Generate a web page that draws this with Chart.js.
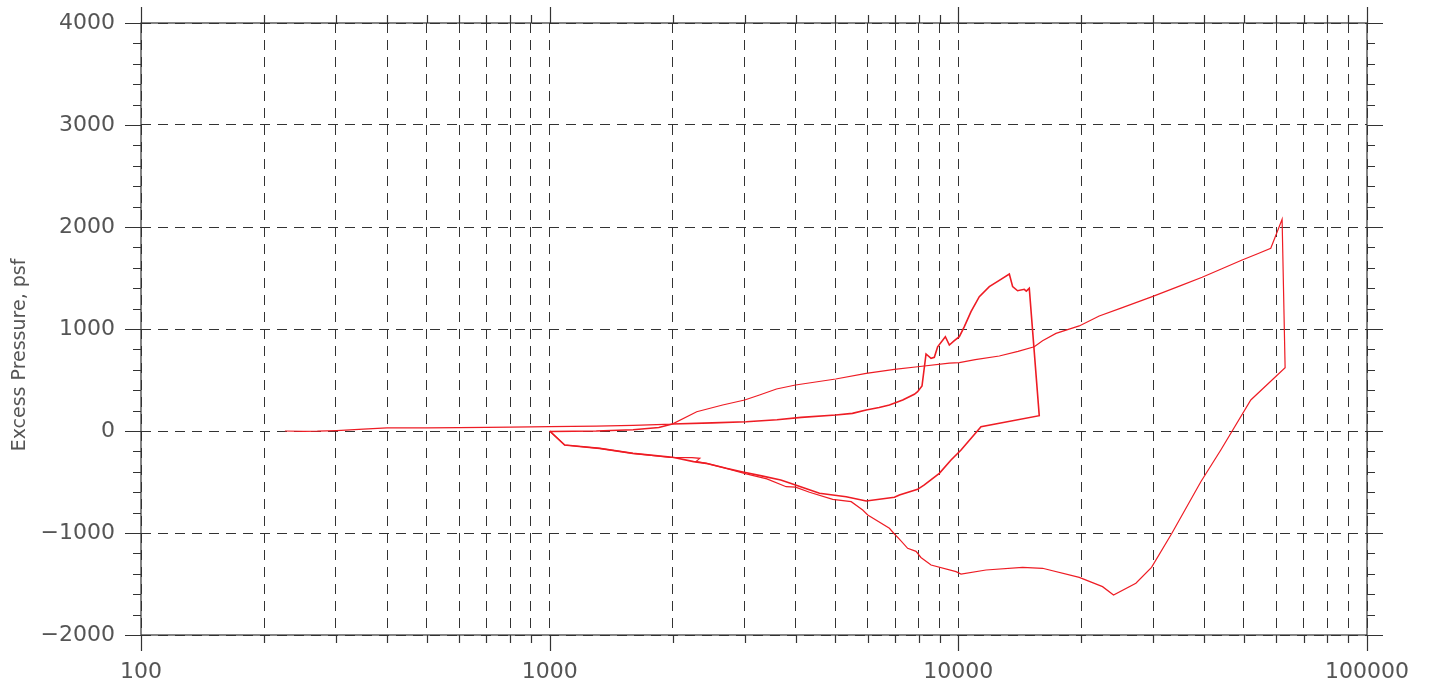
<!DOCTYPE html>
<html>
<head>
<meta charset="utf-8">
<script src="https://cdn.jsdelivr.net/npm/chart.js@4.4.0/dist/chart.umd.min.js"></script>
<style>
  html, body { margin: 0; padding: 0; background: #fff; }
  #wrap { width: 1429px; height: 689px; }
</style>
</head>
<body>
<div id="wrap"><canvas id="chart"></canvas></div>
<script>
// tick positions
var xGrid = [100, 200, 300, 400, 500, 600, 700, 800, 900,
             1000, 2000, 3000, 4000, 5000, 6000, 7000, 8000, 9000,
             10000, 20000, 30000, 40000, 50000, 60000, 70000, 80000, 90000, 100000];
var xLabels = [100, 1000, 10000, 100000];
var yMin = -2000, yMax = 4000, yStep = 1000, yMinorStep = 200;

// outer loop (long branch out to ~63000)
var outerX = [225, 250, 270, 301, 350, 400, 500, 600, 700, 800, 900, 1000, 1300, 1600, 1995,
              2290, 2650, 3000, 3262, 3589, 3996, 5012, 5950, 6976, 7950, 9506, 10056, 11000, 12596,
              14000, 15339, 16073, 17336, 19763, 22120, 25000, 29820, 35000, 39500, 44000, 49480,
              54000, 58150, 61980, 63040,
              51960, 43880, 39210, 33310, 29700, 27194, 23976, 22537, 19763, 16073, 14362, 11687,
              10153, 9871, 8575, 8100, 7880, 7516, 7174, 6976, 6782, 6003, 5834, 5468, 4928, 4323,
              3996, 3791, 3400, 3027, 2704, 2416, 2280, 2330, 2230, 1966, 1598, 1325, 1088, 1000];
var outerY = [0, -3, -2, 4, 18, 30, 31, 33, 36, 38, 40, 42, 48, 56, 68,
              189, 255, 304, 353, 412, 451, 510, 565, 605, 630, 665, 670, 700, 735,
              780, 826, 885, 957, 1030, 1127, 1205, 1317, 1425, 1507, 1588, 1676,
              1738, 1791, 2075, 620,
              304, -186, -497, -1003, -1337, -1493, -1608, -1526, -1435, -1346, -1337, -1363,
              -1402, -1379, -1314, -1240, -1180, -1150, -1060, -1010, -954, -824, -775, -693, -670, -601,
              -550, -546, -470, -420, -366, -317, -300, -268, -262, -258, -219, -170, -137, 0];

// inner loop (returns near 16000)
var innerX = [1000, 1300, 1600, 1850, 1995, 2500, 3027, 3600, 4125, 5012, 5506, 5950, 6400, 6782,
              7309, 7804, 7950, 8149, 8336, 8575, 8735, 8899, 9294, 9506, 9777, 10056, 10344, 10740,
              11254, 11907, 12596, 13328, 13580, 13964, 14500, 14665, 14914, 15776,
              11363, 10153, 9597, 8985, 8257, 7950, 7174, 6976, 5950, 5315, 4573, 3996, 3677,
              3300, 2950, 2704, 2416, 2250, 2000, 1598, 1325, 1088, 1000];
var innerY = [-5, 0, 12, 35, 68, 80, 91, 110, 134, 157, 173, 206, 230, 255,
              304, 360, 385, 441, 755, 712, 722, 826, 925, 843, 885, 925, 1023, 1170,
              1317, 1415, 1477, 1539, 1415, 1375, 1389, 1372, 1399, 150,
              42, -186, -284, -415, -529, -572, -627, -650, -686, -644, -611, -529, -480,
              -440, -400, -366, -317, -300, -258, -219, -170, -137, 0];

function pts(xs, ys) {
    return xs.map(function (x, i) { return { x: x, y: ys[i] }; });
}

var lineColor = 'rgb(238, 28, 36)';
var axisColor = '#333';
var textColor = '#555';
var fontFamily = '"DejaVu Sans", sans-serif';

// frame, minor/major tick marks and y title
var framePlugin = {
    id: 'frame',
    afterDraw: function (chart) {
        var ctx = chart.ctx, a = chart.chartArea;
        var xs = chart.scales.x, ys = chart.scales.y;
        ctx.save();
        ctx.strokeStyle = axisColor;
        ctx.lineWidth = 1.2;
        ctx.setLineDash([]);
        ctx.strokeRect(a.left, a.top, a.right - a.left, a.bottom - a.top);
        ctx.beginPath();
        for (var v = yMin; v <= yMax; v += yMinorStep) {
            var py = Math.round(ys.getPixelForValue(v)) + 0.5;
            var len = (v % yStep === 0) ? 16 : 8;
            ctx.moveTo(a.left - len, py); ctx.lineTo(a.left, py);
            ctx.moveTo(a.right, py); ctx.lineTo(a.right + len, py);
        }
        xGrid.forEach(function (x) {
            var px = Math.round(xs.getPixelForValue(x)) + 0.5;
            var len = xLabels.indexOf(x) >= 0 ? 16 : 8;
            ctx.moveTo(px, a.bottom); ctx.lineTo(px, a.bottom + len);
            ctx.moveTo(px, a.top); ctx.lineTo(px, a.top - len);
        });
        ctx.stroke();

        ctx.translate(20, 355);
        ctx.rotate(-Math.PI / 2);
        ctx.fillStyle = textColor;
        ctx.font = '19px ' + fontFamily;
        ctx.textAlign = 'center';
        ctx.textBaseline = 'middle';
        ctx.fillText('Excess Pressure, psf', 0, 0);
        ctx.restore();
    }
};

var ctx = document.getElementById('chart').getContext('2d');

var pressureChart = new Chart(ctx, {
    type: 'scatter',
    data: {
        datasets: [
            {
                label: 'outer',
                data: pts(outerX, outerY),
                showLine: true,
                borderColor: lineColor,
                borderWidth: 1.2,
                pointRadius: 0,
                tension: 0
            },
            {
                label: 'inner',
                data: pts(innerX, innerY),
                showLine: true,
                borderColor: lineColor,
                borderWidth: 1.6,
                pointRadius: 0,
                tension: 0
            }
        ]
    },
    options: {
        responsive: true,
        maintainAspectRatio: false,
        animation: false,
        devicePixelRatio: 1,
        layout: { padding: { top: 23, right: 62, left: 0, bottom: 0 } },
        plugins: {
            legend: { display: false },
            tooltip: { enabled: false }
        },
        scales: {
            x: {
                type: 'logarithmic',
                position: 'bottom',
                min: 100,
                max: 100000,
                afterBuildTicks: function (scale) {
                    scale.ticks = xGrid.map(function (v) { return { value: v }; });
                },
                afterFit: function (scale) {
                    scale.height = 54;
                    scale.paddingLeft = 0;
                    scale.paddingRight = 0;
                },
                ticks: {
                    autoSkip: false,
                    maxRotation: 0,
                    padding: 24,
                    color: textColor,
                    font: { family: fontFamily, size: 22 },
                    callback: function (v) { return xLabels.indexOf(v) >= 0 ? String(v) : ''; }
                },
                grid: { color: axisColor, lineWidth: 1, drawTicks: false },
                border: { display: false, dash: [10, 7] }
            },
            y: {
                type: 'linear',
                position: 'left',
                min: yMin,
                max: yMax,
                afterFit: function (scale) {
                    scale.width = 141;
                    scale.paddingTop = 0;
                    scale.paddingBottom = 0;
                },
                ticks: {
                    stepSize: yStep,
                    padding: 26,
                    color: textColor,
                    font: { family: fontFamily, size: 22 },
                    callback: function (v) { return v < 0 ? '\u2212' + Math.abs(v) : String(v); }
                },
                grid: { color: axisColor, lineWidth: 1, drawTicks: false },
                border: { display: false, dash: [10, 7] }
            }
        }
    },
    plugins: [framePlugin]
});
</script>
</body>
</html>
